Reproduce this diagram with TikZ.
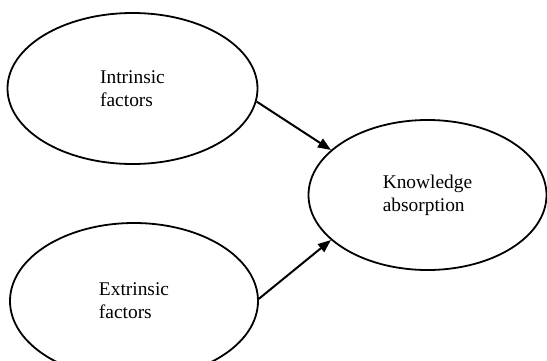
\documentclass[tikz,border=0pt]{standalone}
\usepackage{fontspec}
\setmainfont{Liberation Serif}
\usetikzlibrary{shapes.geometric,arrows.meta}

\tikzset{
	factor/.style={draw, ellipse, line width=0.9pt, align=left, inner sep=0pt,
		font=\fontsize{9.7}{11.5}\selectfont},
	link/.style={line width=1pt, -{Triangle[length=6.5pt,width=5pt]}}
}

\begin{document}
\begin{tikzpicture}[x=0.5pt,y=-0.5pt]
		\useasboundingbox (0,0) rectangle (547,360);
		\node[factor, minimum width=250pt/2, minimum height=151pt/2] (intr) at (132.5,88.5) {Intrinsic\\factors};
		\node[factor, minimum width=248pt/2, minimum height=156pt/2] (extr) at (134,301) {Extrinsic\\factors};
		\node[factor, minimum width=238pt/2, minimum height=150pt/2] (know) at (427.5,195) {Knowledge\\absorption};
		\draw[link] (intr.-6) -- (know.155);
		\draw[link] (extr.1) -- (know.-155);
	\end{tikzpicture}
\end{document}
